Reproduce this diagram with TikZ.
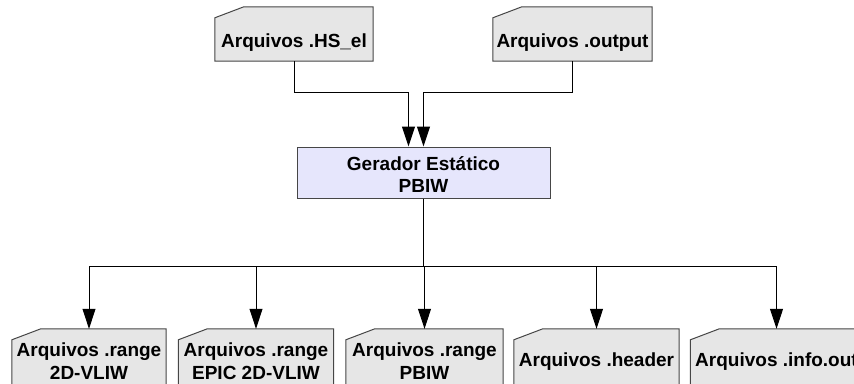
\documentclass[tikz,border=0pt]{standalone}
\usepackage{fontspec}
\setmainfont{Liberation Sans}
\usetikzlibrary{arrows.meta}

\definecolor{cardgray}{RGB}{230,230,230}
\definecolor{procblue}{RGB}{230,230,252}
\definecolor{edgegray}{RGB}{70,70,70}

% file card: a box whose top-left corner is cut off
\newcommand\cardoutline[1]{%
  \filldraw[cardline] ([yshift=-11pt]#1.north west) -- ([xshift=29pt]#1.north west)
    -- (#1.north east) -- (#1.south east) -- (#1.south west) -- cycle;}

\tikzset{
  cardanchor/.style={rectangle, draw=none, inner sep=0pt},
  cardline/.style={draw=edgegray, fill=cardgray, line width=1pt},
  procbox/.style={rectangle, draw=edgegray, fill=procblue, line width=1pt, inner sep=0pt},
  lbl/.style={font=\bfseries\fontsize{19}{22.5}\selectfont, inner sep=0pt, align=center},
  conn/.style={line width=1pt, -{Triangle[length=20pt, width=13pt]}},
  wire/.style={line width=1pt},
}

\begin{document}
\begin{tikzpicture}[x=1pt, y=-1pt]
\useasboundingbox (0,0) rectangle (854,383);
\clip (0,0) rectangle (854,383);

% input files
\node[cardanchor, minimum width=158pt, minimum height=54pt] (hs) at (294,34) {};
\node[cardanchor, minimum width=159pt, minimum height=54pt] (out) at (572.5,34) {};
\cardoutline{hs}
\cardoutline{out}
\node[lbl, anchor=base] (hs-t) at (294,47) {Arquivos .HS\_el};
\node[lbl, anchor=base] (out-t) at (572.5,47) {Arquivos .output};

% generator
\node[procbox, minimum width=253pt, minimum height=51pt] (ger) at (423.5,172.5) {};
\node[lbl] (ger-t) at (423.5,174.5) {Gerador Estático\\PBIW};

% output files
\node[cardanchor, minimum width=154pt, minimum height=58pt] (b1) at (89,358) {};
\node[cardanchor, minimum width=155pt, minimum height=58pt] (b2) at (256,358) {};
\node[cardanchor, minimum width=157pt, minimum height=58pt] (b3) at (424.5,358) {};
\node[cardanchor, minimum width=165pt, minimum height=58pt] (b4) at (596.5,358) {};
\node[cardanchor, minimum width=172pt, minimum height=58pt] (b5) at (776.5,358) {};
\foreach \n in {b1,b2,b3,b4,b5} {\cardoutline{\n}}
\node[lbl] (b1-t) at (89,361) {Arquivos .range\\2D-VLIW};
\node[lbl] (b2-t) at (256,361) {Arquivos .range\\EPIC 2D-VLIW};
\node[lbl] (b3-t) at (424.5,361) {Arquivos .range\\PBIW};
\node[lbl, anchor=base] (b4-t) at (596.5,366) {Arquivos .header};
\node[lbl, anchor=base] (b5-t) at (776.5,366) {Arquivos .info.out};

% inputs into the generator
\draw[conn] (hs.south) -- ++(0,31) -| ([xshift=-15pt]ger.north);
\draw[conn] (out.south) -- ++(0,31) -| (ger.north);

% generator to the output bus
\coordinate (bus) at (423.5,266);
\draw[line width=1.4pt] (ger.south) -- (ger.south |- bus);
\draw[wire] (b1.north |- bus) -- (b5.north |- bus);
\foreach \n in {b1,b2,b3,b4,b5} {\draw[conn] (\n.north |- bus) -- (\n.north);}
\end{tikzpicture}
\end{document}
